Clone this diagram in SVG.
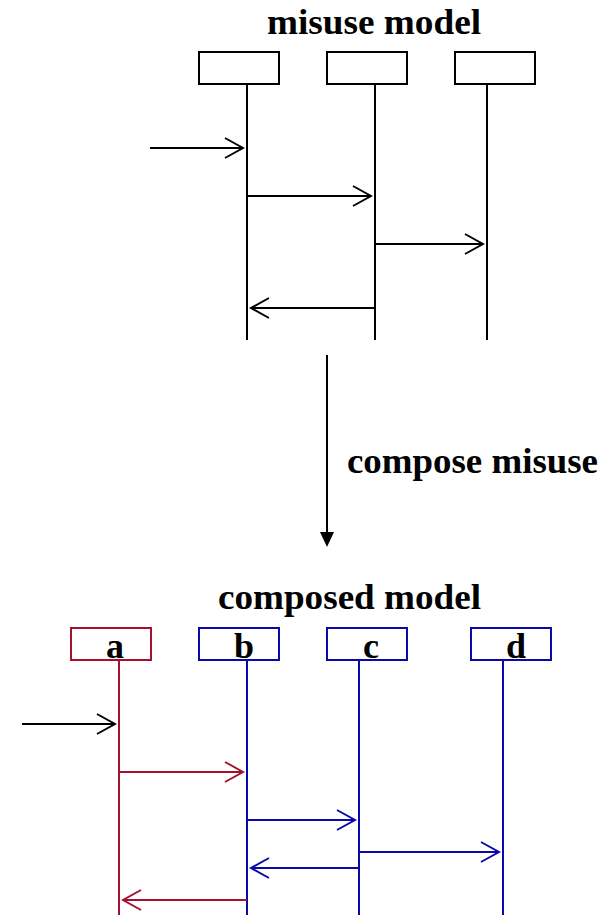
<svg xmlns="http://www.w3.org/2000/svg" width="607" height="915" viewBox="0 0 607 915">
<style>
.t{font-family:"Liberation Serif","Times New Roman",serif;font-weight:bold;font-size:36px;fill:#000}
.lb{font-family:"Liberation Serif","Times New Roman",serif;font-weight:bold;font-size:36px;fill:#000;text-anchor:middle}
.k{stroke:#000;stroke-width:2;fill:none}
.r{stroke:#A50F30;stroke-width:2;fill:none}
.b{stroke:#0A0AAA;stroke-width:2;fill:none}
.box{fill:#fff}
</style>
<defs>
<marker id="hk" markerUnits="userSpaceOnUse" viewBox="-2 -2 22 24" markerWidth="22" markerHeight="24" refX="18" refY="10" orient="auto"><path d="M0,0 L18,10 L0,20" fill="none" stroke="#000" stroke-width="2"/></marker>
<marker id="hr" markerUnits="userSpaceOnUse" viewBox="-2 -2 22 24" markerWidth="22" markerHeight="24" refX="18" refY="10" orient="auto"><path d="M0,0 L18,10 L0,20" fill="none" stroke="#A50F30" stroke-width="2"/></marker>
<marker id="hb" markerUnits="userSpaceOnUse" viewBox="-2 -2 22 24" markerWidth="22" markerHeight="24" refX="18" refY="10" orient="auto"><path d="M0,0 L18,10 L0,20" fill="none" stroke="#0A0AAA" stroke-width="2"/></marker>
</defs>
<rect width="607" height="915" fill="#fff"/>
<text class="t" x="267" y="34" textLength="214" lengthAdjust="spacingAndGlyphs">misuse model</text>
<g id="m1"><line class="k" x1="247" y1="84" x2="247" y2="340"/><rect class="k box" x="199" y="52" width="80" height="32"/></g>
<g id="m2"><line class="k" x1="375" y1="84" x2="375" y2="340"/><rect class="k box" x="327" y="52" width="80" height="32"/></g>
<g id="m3"><line class="k" x1="487" y1="84" x2="487" y2="340"/><rect class="k box" x="455" y="52" width="80" height="32"/></g>
<g id="connectors-top">
<line class="k" x1="150" y1="148" x2="243" y2="148" marker-end="url(#hk)"/>
<line class="k" x1="247" y1="196" x2="371" y2="196" marker-end="url(#hk)"/>
<line class="k" x1="375" y1="244" x2="483" y2="244" marker-end="url(#hk)"/>
<line class="k" x1="375" y1="308" x2="251" y2="308" marker-end="url(#hk)"/>
</g>
<g id="compose">
<line class="k" x1="327" y1="355" x2="327" y2="533"/>
<polygon points="320,532 334,532 327,547" fill="#000"/>
<text class="t" x="347" y="473" textLength="251" lengthAdjust="spacingAndGlyphs">compose misuse</text>
</g>
<text class="t" x="218" y="609" textLength="263" lengthAdjust="spacingAndGlyphs">composed model</text>
<g id="a"><line class="r" x1="119" y1="660" x2="119" y2="915"/><rect class="r box" x="71" y="628" width="80" height="32"/><text class="lb" x="115" y="658">a</text></g>
<g id="b"><line class="b" x1="247" y1="660" x2="247" y2="915"/><rect class="b box" x="199" y="628" width="80" height="32"/><text class="lb" x="244" y="658">b</text></g>
<g id="c"><line class="b" x1="359" y1="660" x2="359" y2="915"/><rect class="b box" x="327" y="628" width="80" height="32"/><text class="lb" x="371" y="658">c</text></g>
<g id="d"><line class="b" x1="503" y1="660" x2="503" y2="915"/><rect class="b box" x="471" y="628" width="80" height="32"/><text class="lb" x="516" y="658">d</text></g>
<g id="connectors-bottom">
<line class="k" x1="22" y1="724" x2="115" y2="724" marker-end="url(#hk)"/>
<line class="r" x1="119" y1="772" x2="243" y2="772" marker-end="url(#hr)"/>
<line class="b" x1="247" y1="820" x2="355" y2="820" marker-end="url(#hb)"/>
<line class="b" x1="359" y1="852" x2="499" y2="852" marker-end="url(#hb)"/>
<line class="b" x1="359" y1="868" x2="251" y2="868" marker-end="url(#hb)"/>
<line class="r" x1="247" y1="900" x2="123" y2="900" marker-end="url(#hr)"/>
</g>
</svg>
